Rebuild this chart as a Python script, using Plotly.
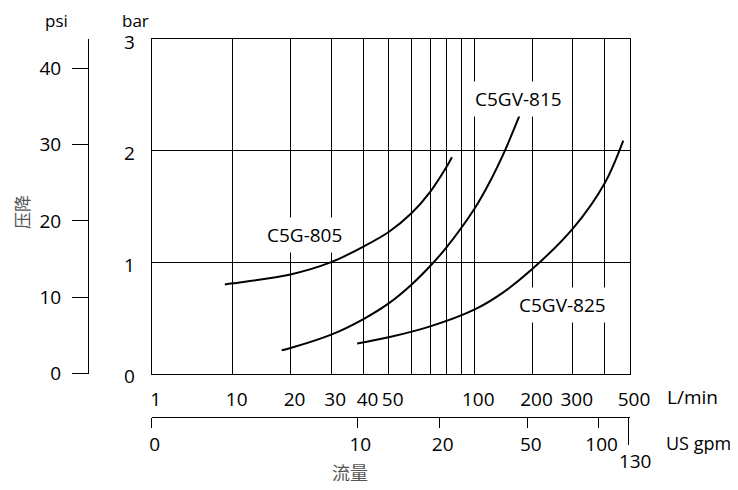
import numpy as np
import plotly.graph_objects as go

# ---- Flow scale: L/min values of the grid lines and their positions on the chart's (non-uniform) scale
lpm_grid = [1, 10, 20, 30, 40, 50, 60, 70, 80, 90, 100, 200, 300, 400, 500]
scale_pos = [0, 81, 138.8, 179.5, 211.8, 237, 260, 278.5, 294.6, 310.1, 322.6, 380.8, 421.1, 453.1, 478.3]
lpm_labels = ["1", "10", "20", "30", "40", "50", "", "", "", "", "100", "200", "300", "", "500"]

# ---- US gpm secondary scale
gpm_ticks = [0, 10, 20, 50, 100]
gpm_tick_labels = ["0", "10", "20", "50", "100"]
gpm_end = [130]
L_PER_GAL = 3.785

# ---- Pressure scales
bar_ticks = [0, 1, 2, 3]
psi_ticks = [0, 10, 20, 30, 40]
PSI_PER_BAR = 14.6

# ---- Curves (flow in L/min, pressure drop in bar)
c805_lpm = [8, 10, 20, 30, 40, 50, 60, 70, 80, 83.5]
c805_bar = [0.80, 0.81, 0.89, 1.0, 1.14, 1.27, 1.44, 1.63, 1.85, 1.94]

c815_lpm = [18, 20, 30, 40, 50, 60, 70, 80, 100, 120, 144, 171]
c815_bar = [0.21, 0.23, 0.35, 0.49, 0.63, 0.80, 0.965, 1.13, 1.476, 1.716, 2.0, 2.31]

c825_lpm = [37.8, 50, 70, 100, 140, 200, 300, 400, 471]
c825_bar = [0.27, 0.326, 0.424, 0.574, 0.725, 0.94, 1.30, 1.71, 2.09]

curve_names = ["C5G-805", "C5GV-815", "C5GV-825"]
label_lpm = [23.0, 169, 271]
label_bar = [1.243, 2.46, 0.62]


def to_pos(lpm):
    v = np.maximum(np.asarray(lpm, dtype=float), 1.0)
    return np.interp(np.log10(v), np.log10(lpm_grid), scale_pos)


FONT = "Open Sans"
FS = 19

# page body margin of the browser (8 px) is compensated in the figure size/margins
OFF = 8
W, H = 738 - OFF, 490 - OFF
ml, mr, mt, mb = 88 - OFF, 108, 39 - OFF, 73
pw = W - ml - mr
ph = H - mt - mb
x0 = (151.7 - OFF - ml) / pw
y0 = (H - mb - (373.7 - OFF)) / ph


def px(xp):
    return (xp - OFF - ml) / pw


def py(yp):
    return (H - mb - (yp - OFF)) / ph


fig = go.Figure()
for xs, ys in [(c805_lpm, c805_bar), (c815_lpm, c815_bar), (c825_lpm, c825_bar)]:
    fig.add_trace(go.Scatter(
        x=to_pos(xs), y=ys, mode="lines",
        line=dict(color="black", width=2, shape="spline"),
        showlegend=False, hoverinfo="skip"))

# invisible traces so the overlay axes are rendered
fig.add_trace(go.Scatter(x=[None], y=[None], xaxis="x2", yaxis="y", showlegend=False))
fig.add_trace(go.Scatter(x=[None], y=[None], xaxis="x3", yaxis="y", showlegend=False))
fig.add_trace(go.Scatter(x=[None], y=[None], xaxis="x", yaxis="y2", showlegend=False))

xr = [scale_pos[0], scale_pos[-1]]
gpm_pos = to_pos(np.array(gpm_ticks) * L_PER_GAL)
gpm_end_pos = to_pos(np.array(gpm_end) * L_PER_GAL)

fig.update_layout(
    width=W, height=H,
    margin=dict(l=ml, r=mr, t=mt, b=mb),
    paper_bgcolor="white", plot_bgcolor="white",
    font=dict(family=FONT, size=FS, color="black"),
    xaxis=dict(
        domain=[x0, 1], range=xr, tickmode="array",
        tickvals=to_pos(lpm_grid), ticktext=lpm_labels,
        showgrid=True, gridcolor="black", gridwidth=1,
        zeroline=False, ticks="", showline=True, linecolor="black",
        linewidth=1, mirror=True, ticklabelstandoff=8, ticklabelshift=4,
        tickfont=dict(size=FS),
    ),
    xaxis2=dict(
        overlaying="x", anchor="free", position=0, range=xr,
        tickmode="array", tickvals=gpm_pos, ticktext=gpm_tick_labels,
        showgrid=False, zeroline=False, showline=True, linecolor="black",
        linewidth=1, ticks="outside", ticklen=10, tickcolor="black",
        tickwidth=1, side="bottom", ticklabelshift=3, tickfont=dict(size=FS),
    ),
    xaxis3=dict(
        overlaying="x", anchor="free", position=0, range=xr,
        tickmode="array", tickvals=gpm_end_pos, ticktext=[str(v) for v in gpm_end],
        showgrid=False, zeroline=False, showline=False,
        ticks="outside", ticklen=27, tickcolor="black", tickwidth=1,
        side="bottom", ticklabelshift=7, tickfont=dict(size=FS),
    ),
    yaxis=dict(
        domain=[y0, 1], range=[0, 3], tickmode="array", tickvals=bar_ticks,
        showgrid=True, gridcolor="black", gridwidth=1, zeroline=False,
        ticks="", showline=True, linecolor="black", linewidth=1, mirror=True,
        ticklabelstandoff=12, ticklabelshift=3, tickfont=dict(size=FS),
    ),
    yaxis2=dict(
        overlaying="y", anchor="free", position=0, side="left",
        range=[0, 3 * PSI_PER_BAR], tickmode="array", tickvals=psi_ticks,
        showgrid=False, zeroline=False, showline=True, linecolor="black",
        linewidth=1, ticks="outside", ticklen=16, tickcolor="black",
        tickwidth=1, ticklabelstandoff=7, tickfont=dict(size=FS),
    ),
)

ann = []
for name, lx, ly in zip(curve_names, label_lpm, label_bar):
    ann.append(dict(x=float(to_pos([lx])[0]), y=ly, xref="x", yref="y", text=name,
                    showarrow=False, bgcolor="white", borderpad=4,
                    font=dict(family=FONT, size=FS, color="black")))

ann += [
    dict(x=px(665), y=py(397), xref="paper", yref="paper", text="L/min", showarrow=False,
         xanchor="left", yanchor="middle", font=dict(size=FS)),
    dict(x=px(664), y=py(443), xref="paper", yref="paper", text="US gpm", showarrow=False,
         xanchor="left", yanchor="middle", font=dict(size=18)),
    dict(x=px(56.7), y=py(8), xref="paper", yref="paper", text="psi", showarrow=False,
         xanchor="center", yanchor="top", borderpad=0, font=dict(size=17)),
    dict(x=px(135.3), y=py(8), xref="paper", yref="paper", text="bar", showarrow=False,
         xanchor="center", yanchor="top", borderpad=0, font=dict(size=17)),
    dict(x=px(21), y=py(212), xref="paper", yref="paper", text="压降", showarrow=False,
         textangle=-90, xanchor="center", yanchor="middle",
         font=dict(family="Noto Sans CJK SC", size=17, color="#555")),
    dict(x=px(349.5), y=py(472), xref="paper", yref="paper", text="流量", showarrow=False,
         xanchor="center", yanchor="middle",
         font=dict(family="Noto Sans CJK SC", size=18, color="#555")),
]
fig.update_layout(annotations=ann)

fig.write_html("out.html")
